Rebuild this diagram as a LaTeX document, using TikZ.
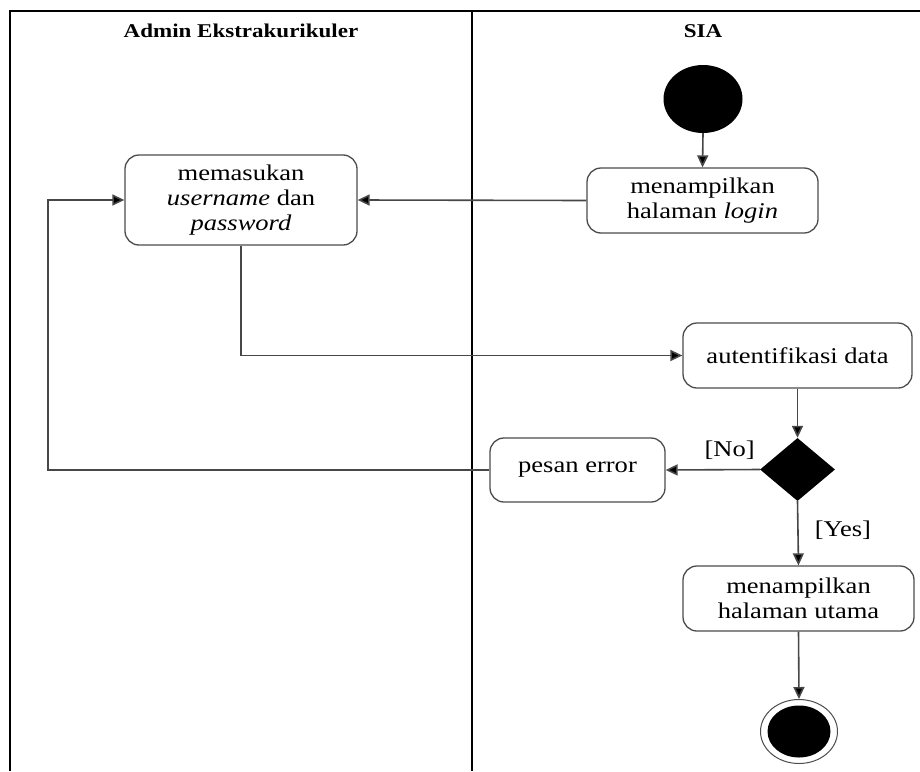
\documentclass[tikz,border=0pt]{standalone}
\usepackage{fontspec}
\setmainfont{Liberation Serif}[FakeStretch=1.18]
\usetikzlibrary{arrows.meta,shapes.geometric}
\begin{document}
\begin{tikzpicture}[x=1pt,y=-1pt,
  lane/.style={line width=1.3pt,draw=black},
  act/.style={draw=black!70,line width=1.3pt,rounded corners=14pt,align=center,
    font=\fontsize{22.5}{25}\selectfont,inner sep=0pt},
  flow/.style={line width=1.6pt,draw=black!72,-{Triangle[length=12pt,width=11pt,fill=black]}},
  hdr/.style={font=\bfseries\fontsize{19.5}{22}\selectfont},
  lbl/.style={font=\fontsize{22.5}{25}\selectfont,inner sep=0pt}]
\useasboundingbox (0,0) rectangle (920,771);
\fill[white] (0,0) rectangle (920,771);
\draw[lane] (10,771) -- (10,11) -- (920,11);
\draw[lane] (472,11) -- (472,771);
\node[hdr] (h1) at (241,31) {Admin Ekstrakurikuler};
\node[hdr] (h2) at (703,31) {SIA};
\node[ellipse,fill=black,minimum width=79pt,minimum height=68pt,inner sep=0pt] (start) at (703,99) {};
\node[act,minimum width=231pt,minimum height=65pt] (login) at (702.5,200.5) {menampilkan\\halaman \textit{login}};
\node[act,minimum width=232pt,minimum height=90pt] (input) at (241,200) {memasukan\\\textit{username} dan\\\textit{password}};
\node[act,minimum width=229pt,minimum height=65pt] (auth) at (797.5,355.5) {autentifikasi data};
\node[diamond,fill=black,aspect=1.19,minimum width=75pt,minimum height=63pt,inner sep=0pt] (dec) at (797.5,469.5) {};
\node[act,minimum width=175pt,minimum height=64pt] (err) at (577.5,470) {pesan error};
\node[act,minimum width=231pt,minimum height=65pt] (home) at (798.5,598.5) {menampilkan\\halaman utama};
\node[ellipse,draw=black!70,line width=1pt,minimum width=77pt,minimum height=64pt,inner sep=0pt] (end) at (799,731.5) {};
\node[ellipse,fill=black,minimum width=63pt,minimum height=52pt,inner sep=0pt] (endin) at (799,731.5) {};
\coordinate (loopc) at (48,470);
\draw[flow] (start.south) -- (login.north);
\draw[flow] (login.west) -- (input.east);
\draw[flow] (input.south) |- (auth.west);
\draw[flow] (auth.south) -- (dec.north);
\draw[flow] (dec.west) -- node[lbl,above=9pt,pos=0.32] {[No]} (err.east);
\draw[flow] (err.west) -- (loopc) |- (input.west);
\draw[flow] (dec.south) -- node[lbl,right=16pt,pos=0.45] {[Yes]} (home.north);
\draw[flow] (home.south) -- (end.north);
\end{tikzpicture}
\end{document}
